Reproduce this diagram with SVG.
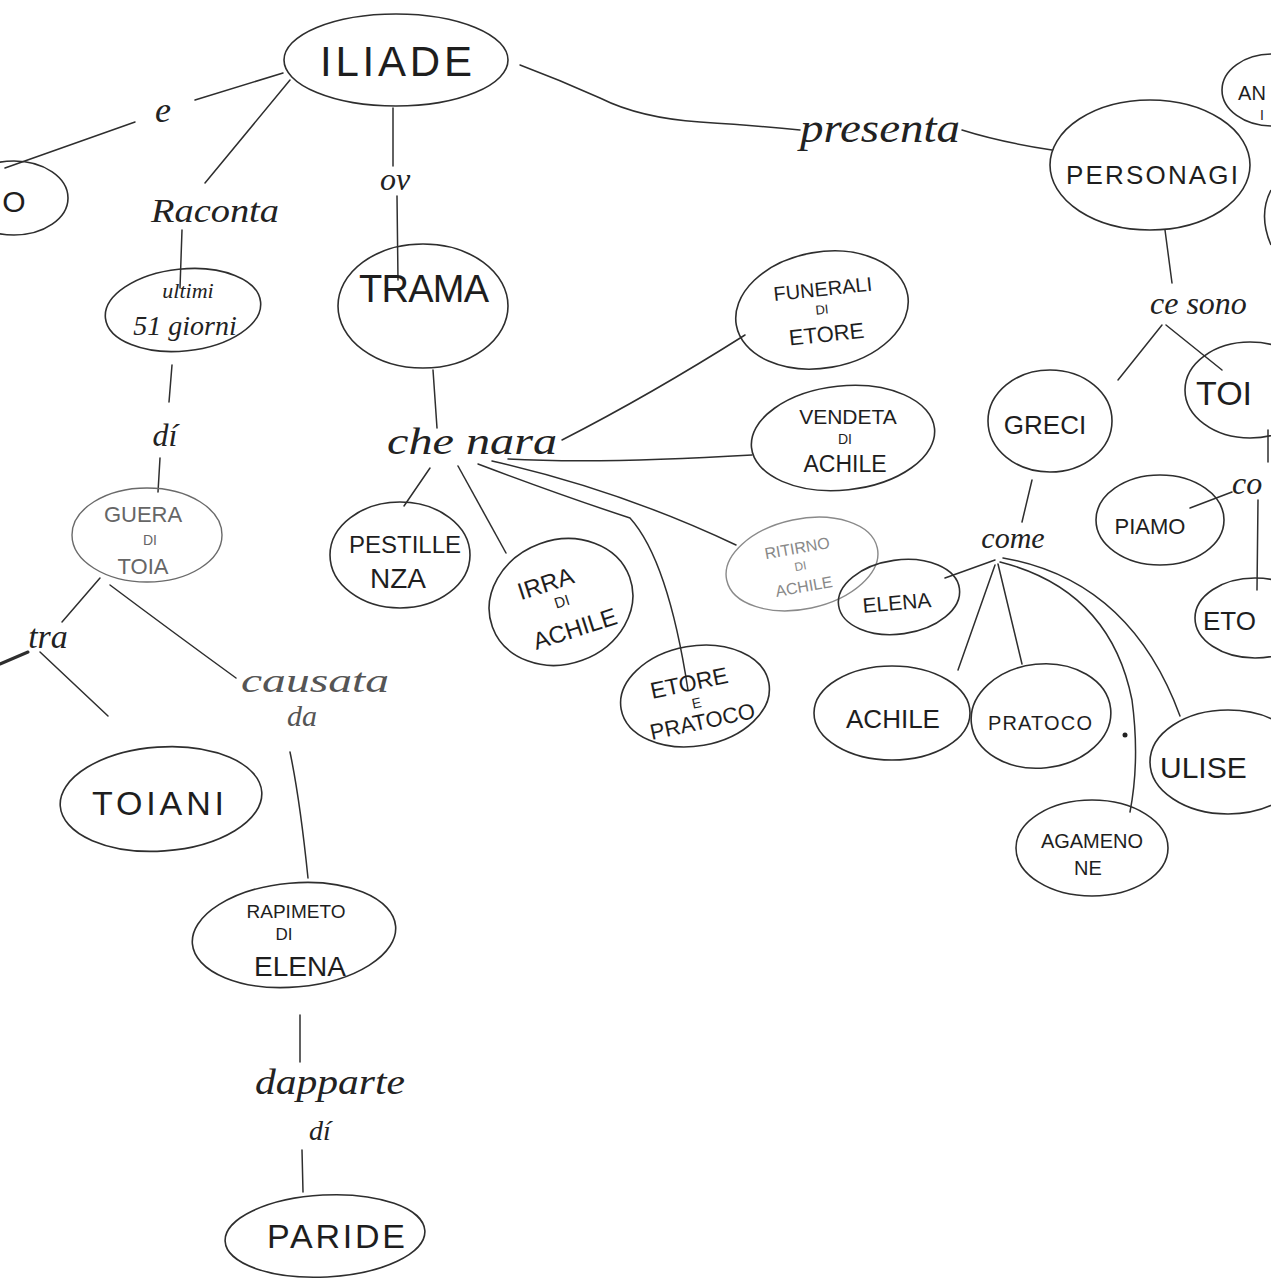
<svg xmlns="http://www.w3.org/2000/svg" width="1271" height="1281" viewBox="0 0 1271 1281">
<style>
.n{fill:none;stroke:#2e2e2e;stroke-width:1.6}
.nl{fill:none;stroke:#6a6a6a;stroke-width:1.4}
.c{fill:none;stroke:#2e2e2e;stroke-width:1.5;stroke-linecap:round}
.t{font-family:"Liberation Sans","DejaVu Sans",sans-serif;fill:#1e1e1e;text-anchor:middle}
.tl{font-family:"Liberation Sans","DejaVu Sans",sans-serif;fill:#666;text-anchor:middle}
.tx{font-family:"Liberation Sans","DejaVu Sans",sans-serif;fill:#888;text-anchor:middle}
.k{font-family:"Liberation Serif","DejaVu Serif",serif;font-style:italic;fill:#222;text-anchor:middle}
.kl{font-family:"Liberation Serif","DejaVu Serif",serif;font-style:italic;fill:#555;text-anchor:middle}
</style>
<rect width="1271" height="1281" fill="#ffffff"/>
<g id="connectors">
<path class="c" d="M283 73 L195 100"/>
<path class="c" d="M135 122 L5 168"/>
<path class="c" d="M290 80 L205 183"/>
<path class="c" d="M182 230 L180 288"/>
<path class="c" d="M172 365 L169 402"/>
<path class="c" d="M160 458 L158 492"/>
<path class="c" d="M100 578 L62 622"/>
<path class="c" d="M28 652 L0 664" style="stroke-width:3"/>
<path class="c" d="M40 652 L108 716"/>
<path class="c" d="M110 585 Q170 630 236 678"/>
<path class="c" d="M290 752 Q300 800 308 878"/>
<path class="c" d="M300 1015 L300 1062"/>
<path class="c" d="M302 1150 L303 1192"/>
<path class="c" d="M393 108 L393 166"/>
<path class="c" d="M397 196 L398 280"/>
<path class="c" d="M520 65 Q560 80 600 98 Q640 118 700 122 Q760 126 800 130"/>
<path class="c" d="M962 130 Q1000 142 1052 150"/>
<path class="c" d="M433 370 L437 428"/>
<path class="c" d="M430 468 L404 506"/>
<path class="c" d="M458 466 L506 553"/>
<path class="c" d="M478 464 Q560 495 630 518 Q668 560 688 690"/>
<path class="c" d="M492 461 Q620 490 736 545"/>
<path class="c" d="M508 459 Q600 464 752 455"/>
<path class="c" d="M562 440 Q650 395 745 335"/>
<path class="c" d="M1165 230 L1172 283"/>
<path class="c" d="M1162 325 L1118 380"/>
<path class="c" d="M1166 325 L1222 370"/>
<path class="c" d="M1032 480 L1022 522"/>
<path class="c" d="M995 560 L945 578"/>
<path class="c" d="M995 565 L958 670"/>
<path class="c" d="M998 564 L1022 664"/>
<path class="c" d="M1000 562 Q1110 590 1132 700 Q1140 760 1130 812"/>
<path class="c" d="M1003 558 Q1130 580 1180 716"/>
<path class="c" d="M1268 430 L1268 462"/>
<path class="c" d="M1232 492 L1190 508"/>
<path class="c" d="M1258 500 L1257 590"/>
</g>
<g id="n-iliade"><ellipse class="n" cx="396" cy="60" rx="112" ry="46"/><text class="t" x="396" y="76" font-size="42" textLength="152">ILIADE</text></g>
<g id="n-left"><ellipse class="n" cx="14" cy="198" rx="54" ry="37"/><text class="t" x="14" y="212" font-size="30">O</text></g>
<g id="l-e"><text class="k" x="163" y="122" font-size="36">e</text></g>
<g id="l-raconta"><text class="k" x="215" y="222" font-size="34" textLength="128" lengthAdjust="spacingAndGlyphs">Raconta</text></g>
<g id="n-ultimi"><ellipse class="n" cx="183" cy="310" rx="78" ry="41" transform="rotate(-6 183 310)"/><text class="k" x="188" y="298" font-size="22">ultimi</text><text class="k" x="185" y="335" font-size="28">51 giorni</text></g>
<g id="l-di1"><text class="k" x="165" y="446" font-size="32">dí</text></g>
<g id="n-guera"><ellipse class="nl" cx="147" cy="535" rx="75" ry="47"/><text class="tl" x="143" y="522" font-size="22">GUERA</text><text class="tl" x="150" y="545" font-size="14">DI</text><text class="tl" x="143" y="574" font-size="22">TOIA</text></g>
<g id="l-tra"><text class="k" x="48" y="648" font-size="34">tra</text></g>
<g id="l-causata"><text class="kl" x="315" y="692" font-size="34" textLength="148" lengthAdjust="spacingAndGlyphs">causata</text><text class="kl" x="302" y="726" font-size="30">da</text></g>
<g id="n-toiani"><ellipse class="n" cx="161" cy="799" rx="101" ry="52" transform="rotate(-4 161 799)"/><text class="t" x="158" y="815" font-size="34" textLength="132">TOIANI</text></g>
<g id="n-rapimeto"><ellipse class="n" cx="294" cy="935" rx="102" ry="52" transform="rotate(-5 294 935)"/><text class="t" x="296" y="918" font-size="19">RAPIMETO</text><text class="t" x="284" y="940" font-size="17">DI</text><text class="t" x="300" y="976" font-size="28">ELENA</text></g>
<g id="l-dapparte"><text class="k" x="330" y="1094" font-size="36" textLength="150" lengthAdjust="spacingAndGlyphs">dapparte</text><text class="k" x="320" y="1140" font-size="28">dí</text></g>
<g id="n-paride"><ellipse class="n" cx="325" cy="1236" rx="100" ry="41" transform="rotate(-3 325 1236)"/><text class="t" x="336" y="1248" font-size="34" textLength="138">PARIDE</text></g>
<g id="l-ov"><text class="k" x="395" y="190" font-size="32">ov</text></g>
<g id="n-trama"><ellipse class="n" cx="423" cy="306" rx="85" ry="62"/><text class="t" x="424" y="302" font-size="38" textLength="130">TRAMA</text></g>
<g id="l-chenara"><text class="k" x="472" y="454" font-size="38" textLength="170" lengthAdjust="spacingAndGlyphs">che nara</text></g>
<g id="n-pestilenza"><ellipse class="n" cx="400" cy="555" rx="70" ry="53"/><text class="t" x="405" y="553" font-size="24">PESTILLE</text><text class="t" x="398" y="588" font-size="28">NZA</text></g>
<g id="n-irra"><ellipse class="n" cx="561" cy="602" rx="73" ry="62" transform="rotate(-20 561 602)"/><g transform="rotate(-18 561 602)"><text class="t" x="552" y="588" font-size="24">IRRA</text><text class="t" x="562" y="607" font-size="15">DI</text><text class="t" x="566" y="640" font-size="24">ACHILE</text></g></g>
<g id="n-etore-pratoco"><ellipse class="n" cx="695" cy="696" rx="75" ry="50" transform="rotate(-10 695 696)"/><g transform="rotate(-12 695 696)"><text class="t" x="692" y="690" font-size="23">ETORE</text><text class="t" x="695" y="708" font-size="14">E</text><text class="t" x="697" y="730" font-size="22">PRATOCO</text></g></g>
<g id="n-ritirno"><ellipse class="nl" cx="802" cy="564" rx="77" ry="45" transform="rotate(-12 802 564)" style="stroke:#8a8a8a"/><g transform="rotate(-10 802 564)"><text class="tx" x="800" y="553" font-size="16">RITIRNO</text><text class="tx" x="800" y="570" font-size="12">DI</text><text class="tx" x="800" y="592" font-size="16">ACHILE</text></g></g>
<g id="n-funerali"><ellipse class="n" cx="822" cy="310" rx="87" ry="58" transform="rotate(-10 822 310)"/><g transform="rotate(-6 822 310)"><text class="t" x="825" y="296" font-size="20">FUNERALI</text><text class="t" x="822" y="314" font-size="13">DI</text><text class="t" x="824" y="342" font-size="22">ETORE</text></g></g>
<g id="n-vendeta"><ellipse class="n" cx="843" cy="438" rx="92" ry="52" transform="rotate(-6 843 438)"/><text class="t" x="848" y="424" font-size="21">VENDETA</text><text class="t" x="845" y="444" font-size="14">DI</text><text class="t" x="845" y="472" font-size="23">ACHILE</text></g>
<g id="n-elena"><ellipse class="n" cx="899" cy="597" rx="61" ry="37" transform="rotate(-8 899 597)"/><text class="t" x="897" y="610" font-size="21" transform="rotate(-5 897 605)">ELENA</text></g>
<g id="l-presenta"><text class="k" x="880" y="142" font-size="42" textLength="160" lengthAdjust="spacingAndGlyphs">presenta</text></g>
<g id="n-personagi"><ellipse class="n" cx="1150" cy="165" rx="100" ry="65"/><text class="t" x="1152" y="184" font-size="26" textLength="172">PERSONAGI</text></g>
<g id="n-topright"><ellipse class="n" cx="1272" cy="90" rx="50" ry="36"/><text class="t" x="1252" y="100" font-size="20">AN</text><text class="t" x="1262" y="120" font-size="14">I</text></g>
<g id="n-rightarc"><path class="n" d="M1271 190 Q1258 215 1271 245"/></g>
<g id="l-cesono"><text class="k" x="1150" y="314" font-size="32" style="text-anchor:start">ce sono</text></g>
<g id="n-toiani2"><ellipse class="n" cx="1250" cy="390" rx="65" ry="48"/><text class="t" x="1196" y="405" font-size="34" style="text-anchor:start">TOI</text></g>
<g id="n-greci"><ellipse class="n" cx="1050" cy="421" rx="62" ry="51"/><text class="t" x="1045" y="434" font-size="26">GRECI</text></g>
<g id="l-come"><text class="k" x="1013" y="548" font-size="30">come</text></g>
<g id="n-achile"><ellipse class="n" cx="892" cy="713" rx="78" ry="47"/><text class="t" x="893" y="728" font-size="26">ACHILE</text></g>
<g id="n-pratoco"><ellipse class="n" cx="1041" cy="716" rx="70" ry="52" transform="rotate(-6 1041 716)"/><text class="t" x="1040" y="730" font-size="20" textLength="104">PRATOCO</text><circle cx="1125" cy="735" r="2.5" fill="#222"/></g>
<g id="n-ulise"><ellipse class="n" cx="1228" cy="762" rx="78" ry="52"/><text class="t" x="1160" y="778" font-size="30" style="text-anchor:start">ULISE</text></g>
<g id="n-agameno"><ellipse class="n" cx="1092" cy="848" rx="76" ry="48"/><text class="t" x="1092" y="848" font-size="20">AGAMENO</text><text class="t" x="1088" y="875" font-size="20">NE</text></g>
<g id="l-come2"><text class="k" x="1232" y="494" font-size="32" style="text-anchor:start">co</text></g>
<g id="n-piamo"><ellipse class="n" cx="1160" cy="520" rx="64" ry="45"/><text class="t" x="1150" y="534" font-size="22">PIAMO</text></g>
<g id="n-etore2"><ellipse class="n" cx="1255" cy="618" rx="60" ry="40"/><text class="t" x="1203" y="630" font-size="26" style="text-anchor:start">ETO</text></g>
</svg>
